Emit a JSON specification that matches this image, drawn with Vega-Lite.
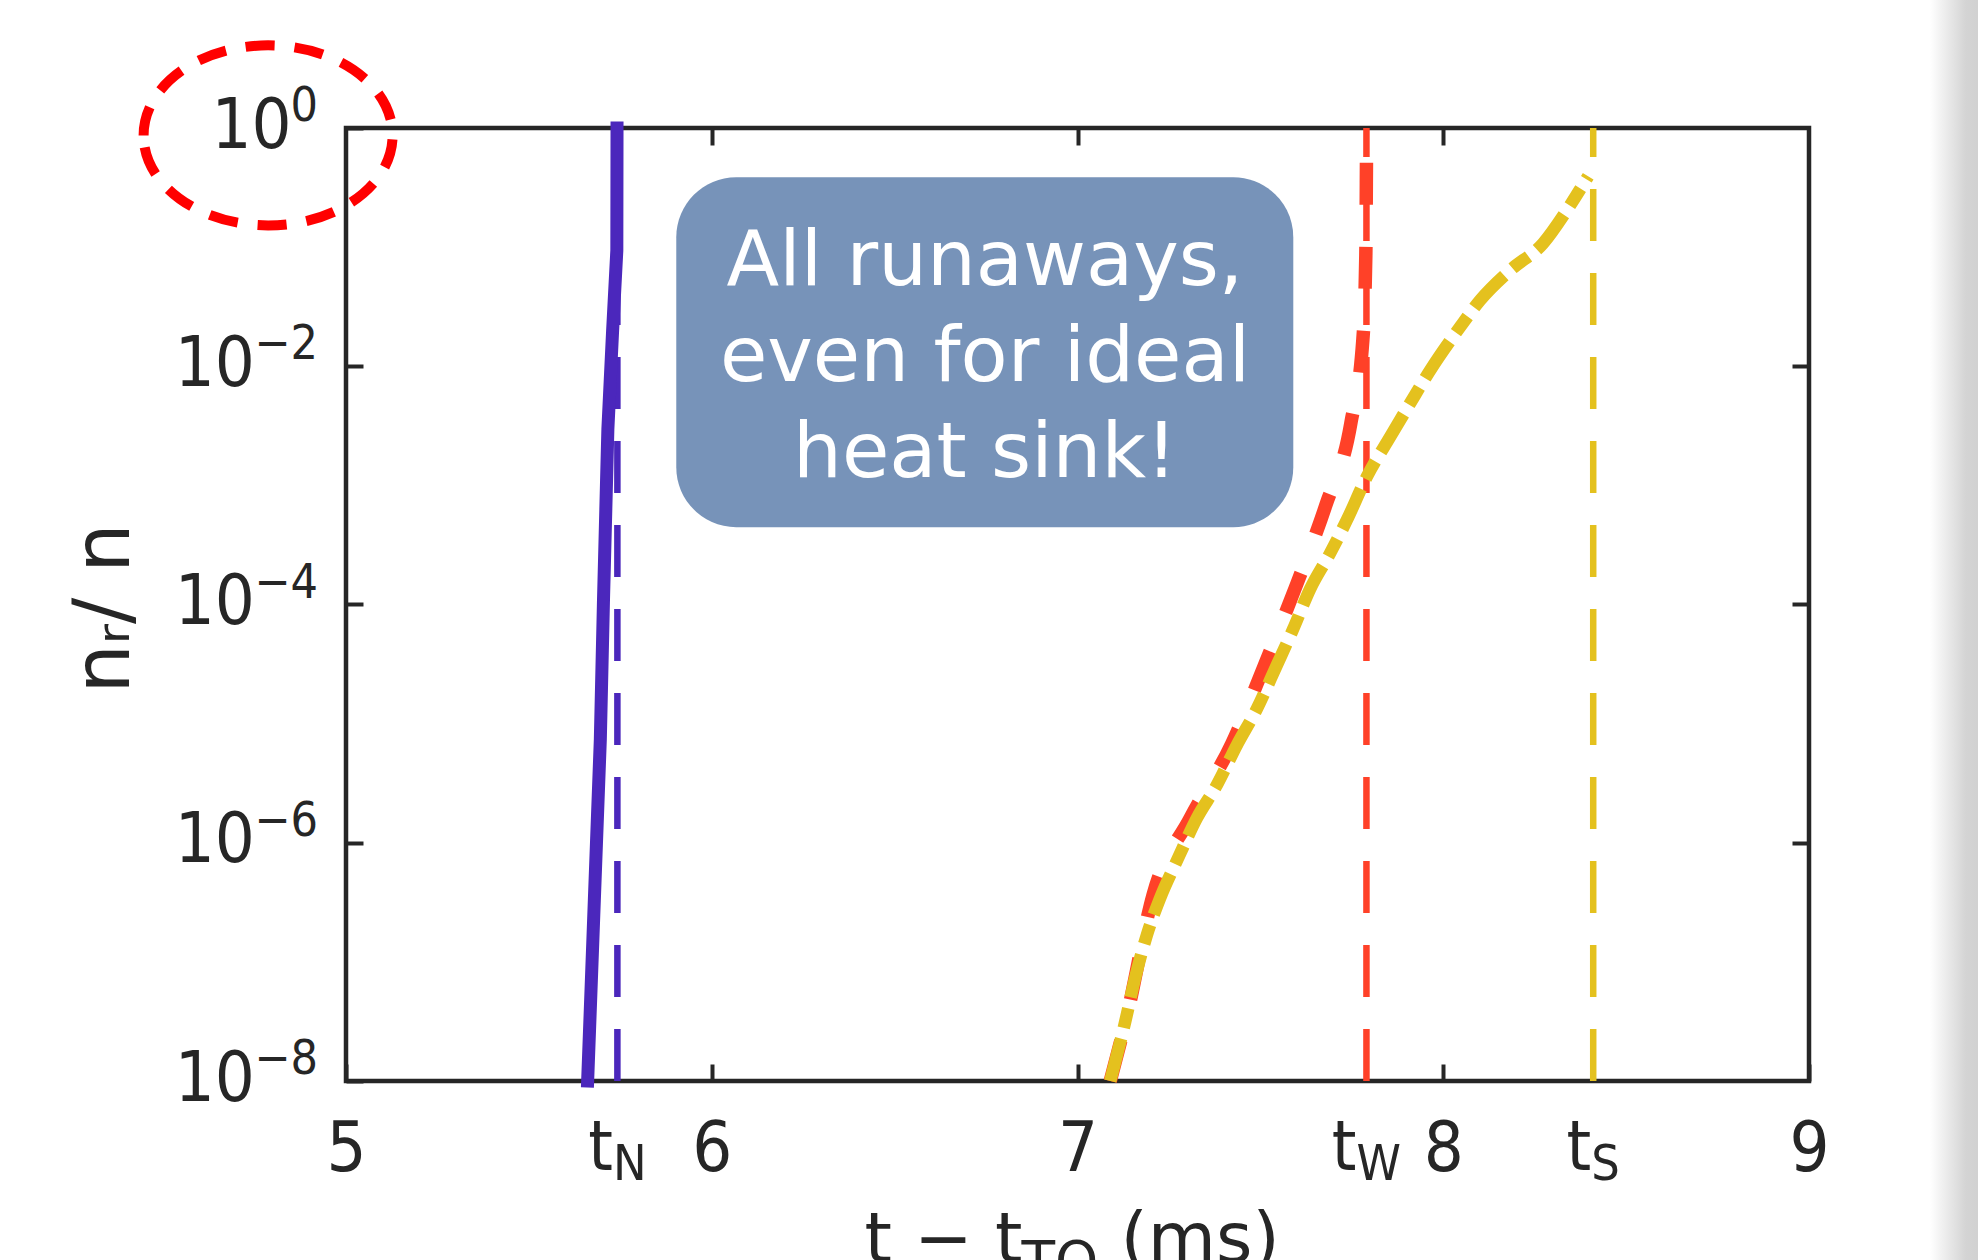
{
  "$schema": "https://vega.github.io/schema/vega-lite/v6.json",
  "width": 1463,
  "height": 953,
  "autosize": {"type": "none"},
  "padding": {"left": 346, "top": 128, "right": 169, "bottom": 179},
  "background": "white",
  "config": {
    "view": {"stroke": "#262626", "strokeWidth": 4.5},
    "font": "DejaVu Sans"
  },
  "datasets": {
    "purple": [
      {"o": 1, "t": 5.6607, "r": 1e-8},
      {"o": 2, "t": 5.6790, "r": 3.31e-7},
      {"o": 3, "t": 5.6954, "r": 7.43e-6},
      {"o": 4, "t": 5.7040, "r": 1.089e-4},
      {"o": 5, "t": 5.7160, "r": 0.002961},
      {"o": 6, "t": 5.7290, "r": 0.02004},
      {"o": 7, "t": 5.7405, "r": 0.094},
      {"o": 8, "t": 5.7410, "r": 1}
    ],
    "red": [
      {"o": 1, "t": 7.0896, "r": 1e-8},
      {"o": 2, "t": 7.1351, "r": 3.52e-8},
      {"o": 3, "t": 7.2069, "r": 3.68e-7},
      {"o": 4, "t": 7.3081, "r": 1.61e-6},
      {"o": 5, "t": 7.4220, "r": 6.79e-6},
      {"o": 6, "t": 7.5131, "r": 3.19e-5},
      {"o": 7, "t": 7.5997, "r": 1.49e-4},
      {"o": 8, "t": 7.6790, "r": 6.82e-4},
      {"o": 9, "t": 7.7473, "r": 3.32e-3},
      {"o": 10, "t": 7.7801, "r": 0.01652},
      {"o": 11, "t": 7.7883, "r": 0.0853},
      {"o": 12, "t": 7.7899, "r": 0.4406},
      {"o": 13, "t": 7.7905, "r": 1}
    ],
    "yellow": [
      {"o": 1, "t": 7.0896, "r": 1e-8},
      {"o": 2, "t": 7.1304, "r": 3.14e-8},
      {"o": 3, "t": 7.1577, "r": 7.35e-8},
      {"o": 4, "t": 7.1897, "r": 1.68e-7},
      {"o": 5, "t": 7.2260, "r": 3.44e-7},
      {"o": 6, "t": 7.2752, "r": 7.45e-7},
      {"o": 7, "t": 7.3263, "r": 1.61e-6},
      {"o": 8, "t": 7.3810, "r": 3.05e-6},
      {"o": 9, "t": 7.4357, "r": 6.61e-6},
      {"o": 10, "t": 7.4903, "r": 1.33e-5},
      {"o": 11, "t": 7.5450, "r": 3.10e-5},
      {"o": 12, "t": 7.5896, "r": 6.22e-5},
      {"o": 13, "t": 7.6360, "r": 1.35e-4},
      {"o": 14, "t": 7.6907, "r": 2.70e-4},
      {"o": 15, "t": 7.7364, "r": 5.11e-4},
      {"o": 16, "t": 7.7910, "r": 1.18e-3},
      {"o": 17, "t": 7.8547, "r": 2.55e-3},
      {"o": 18, "t": 7.9094, "r": 4.89e-3},
      {"o": 19, "t": 7.9641, "r": 9.25e-3},
      {"o": 20, "t": 8.0461, "r": 0.02138},
      {"o": 21, "t": 8.1008, "r": 0.0358},
      {"o": 22, "t": 8.1828, "r": 0.06387},
      {"o": 23, "t": 8.2730, "r": 0.1076},
      {"o": 24, "t": 8.3378, "r": 0.2037},
      {"o": 25, "t": 8.3960, "r": 0.3926}
    ],
    "vlines": [
      {"name": "N", "t": 5.742},
      {"name": "W", "t": 7.79},
      {"name": "S", "t": 8.41}
    ],
    "yticks": [
      {"v": 1, "e": "0"},
      {"v": 0.01, "e": "−2"},
      {"v": 0.0001, "e": "−4"},
      {"v": 0.000001, "e": "−6"},
      {"v": 1e-8, "e": "−8"}
    ],
    "box": [{"x1": 5.903, "x2": 7.59, "y1": 0.386, "y2": 0.000446}],
    "boxtext": [
      {"line": "All runaways,", "y": 0.04769},
      {"line": "even for ideal", "y": 0.007469},
      {"line": "heat sink!", "y": 0.001171}
    ]
  },
  "resolve": {"axis": {"x": "independent", "y": "independent"}},
  "layer": [
    {
      "data": {"values": [{"a": 1}]},
      "mark": {"type": "rect", "fill": {"gradient": "linear", "x1": 0, "x2": 1, "y1": 0, "y2": 0, "stops": [{"offset": 0, "color": "#ffffff"}, {"offset": 0.7, "color": "#d4d4d4"}, {"offset": 1, "color": "#d0d0d0"}]}},
      "encoding": {
        "x": {"datum": 9.3308, "type": "quantitative", "scale": {"domain": [5, 9], "nice": false, "zero": false}, "axis": null},
        "x2": {"datum": 9.47},
        "y": {"datum": 20, "type": "quantitative", "scale": {"type": "log", "domain": [1e-8, 1], "nice": false}, "axis": null},
        "y2": {"datum": 1e-10}
      }
    },
    {
      "data": {"name": "vlines"},
      "mark": {"type": "rule", "strokeWidth": 6.5, "strokeDash": [52, 32]},
      "encoding": {
        "x": {"field": "t", "type": "quantitative", "scale": {"domain": [5, 9], "nice": false, "zero": false}, "axis": null},
        "y": {"datum": 1e-8, "type": "quantitative", "scale": {"type": "log", "domain": [1e-8, 1], "nice": false}, "axis": null},
        "y2": {"datum": 1},
        "color": {"field": "name", "type": "nominal", "scale": {"domain": ["N", "W", "S"], "range": ["#4b27bc", "#ff4128", "#e4c11e"]}, "legend": null}
      }
    },
    {
      "data": {"name": "purple"},
      "mark": {"type": "line", "color": "#4b27bc", "strokeWidth": 13, "strokeCap": "square"},
      "encoding": {
        "x": {"field": "t", "type": "quantitative", "scale": {"domain": [5, 9], "nice": false, "zero": false},
          "axis": {"orient": "bottom", "values": [5, 6, 7, 8, 9], "format": "d", "domain": false, "grid": false, "ticks": true, "tickSize": -17, "tickWidth": 4, "tickColor": "#262626", "labelFont": "DejaVu Sans Condensed, DejaVu Sans", "labelFontSize": 70, "labelColor": "#262626", "labelPadding": 106, "labelBaseline": "alphabetic", "labelAlign": "center", "labelFlush": false, "labelOverlap": false, "labelBound": false, "title": null}},
        "y": {"field": "r", "type": "quantitative", "scale": {"type": "log", "domain": [1e-8, 1], "nice": false},
          "axis": {"orient": "left", "values": [1, 0.01, 0.0001, 0.000001, 1e-8], "labelExpr": "'10'", "domain": false, "grid": false, "ticks": true, "tickSize": -17, "tickWidth": 4, "tickColor": "#262626", "labelFont": "DejaVu Sans Condensed, DejaVu Sans", "labelFontSize": 70, "labelColor": "#262626", "labelAlign": "right", "labelBaseline": "alphabetic", "labelOffset": 19, "labelPadding": {"condition": {"test": "datum.value >= 0.5", "value": 72}, "value": 108.6}, "labelFlush": false, "labelOverlap": false, "labelBound": false,
            "title": "nᵣ/ n", "titleFont": "DejaVu Sans", "titleFontSize": 78, "titleFontWeight": "normal", "titleColor": "#262626", "titleX": -217.6, "titleY": 480, "titleAlign": "center", "titleBaseline": "alphabetic", "titleAngle": 270}},
        "order": {"field": "o", "type": "quantitative"}
      }
    },
    {
      "data": {"name": "red"},
      "mark": {"type": "line", "color": "#ff4128", "strokeWidth": 13.5, "strokeDash": [42, 42], "interpolate": "monotone"},
      "encoding": {
        "x": {"field": "t", "type": "quantitative", "scale": {"domain": [5, 9], "nice": false, "zero": false},
          "axis": {"orient": "top", "values": [6, 7, 8], "labels": false, "domain": false, "grid": false, "ticks": true, "tickSize": -17, "tickWidth": 4, "tickColor": "#262626", "title": null}},
        "y": {"field": "r", "type": "quantitative", "scale": {"type": "log", "domain": [1e-8, 1], "nice": false},
          "axis": {"orient": "right", "values": [0.01, 0.0001, 0.000001], "labels": false, "domain": false, "grid": false, "ticks": true, "tickSize": -17, "tickWidth": 4, "tickColor": "#262626", "title": null}},
        "order": {"field": "o", "type": "quantitative"}
      }
    },
    {
      "data": {"name": "yellow"},
      "mark": {"type": "line", "color": "#e4c11e", "strokeWidth": 12.5, "strokeDash": [44, 11, 20, 11], "interpolate": "monotone"},
      "encoding": {
        "x": {"field": "t", "type": "quantitative", "scale": {"domain": [5, 9], "nice": false, "zero": false}, "axis": null},
        "y": {"field": "r", "type": "quantitative", "scale": {"type": "log", "domain": [1e-8, 1], "nice": false}, "axis": null},
        "order": {"field": "o", "type": "quantitative"}
      }
    },
    {
      "data": {"name": "box"},
      "mark": {"type": "rect", "fill": "#7793b9", "cornerRadius": 60},
      "encoding": {
        "x": {"field": "x1", "type": "quantitative", "scale": {"domain": [5, 9], "nice": false, "zero": false}, "axis": null},
        "x2": {"field": "x2"},
        "y": {"field": "y1", "type": "quantitative", "scale": {"type": "log", "domain": [1e-8, 1], "nice": false}, "axis": null},
        "y2": {"field": "y2"}
      }
    },
    {
      "data": {"name": "boxtext"},
      "mark": {"type": "text", "align": "center", "baseline": "alphabetic", "fontSize": 77, "font": "DejaVu Sans", "color": "#ffffff"},
      "encoding": {
        "x": {"datum": 6.747, "type": "quantitative", "scale": {"domain": [5, 9], "nice": false, "zero": false}, "axis": null},
        "y": {"field": "y", "type": "quantitative", "scale": {"type": "log", "domain": [1e-8, 1], "nice": false}, "axis": null},
        "text": {"field": "line"}
      }
    },
    {
      "data": {"name": "yticks"},
      "mark": {"type": "text", "align": "right", "baseline": "alphabetic", "dx": -28, "dy": -7, "fontSize": 48, "font": "DejaVu Sans Condensed, DejaVu Sans", "color": "#262626"},
      "encoding": {
        "x": {"datum": 5, "type": "quantitative", "scale": {"domain": [5, 9], "nice": false, "zero": false}, "axis": null},
        "y": {"field": "v", "type": "quantitative", "scale": {"type": "log", "domain": [1e-8, 1], "nice": false}, "axis": null},
        "text": {"field": "e"}
      }
    },
    {
      "data": {"name": "vlines"},
      "mark": {"type": "text", "text": "t", "align": "right", "baseline": "alphabetic", "dy": 89, "dx": {"expr": "datum.name === 'W' ? -10 : datum.name === 'N' ? -4.5 : -2"}, "fontSize": 70, "font": "DejaVu Sans Condensed, DejaVu Sans", "color": "#262626"},
      "encoding": {
        "x": {"field": "t", "type": "quantitative", "scale": {"domain": [5, 9], "nice": false, "zero": false}, "axis": null},
        "y": {"datum": 1e-8, "type": "quantitative", "scale": {"type": "log", "domain": [1e-8, 1], "nice": false}, "axis": null}
      }
    },
    {
      "data": {"name": "vlines"},
      "mark": {"type": "text", "align": "left", "baseline": "alphabetic", "dy": 99, "dx": {"expr": "datum.name === 'W' ? -10 : datum.name === 'N' ? -4.5 : -2"}, "fontSize": 50, "font": "DejaVu Sans Condensed, DejaVu Sans", "color": "#262626"},
      "encoding": {
        "x": {"field": "t", "type": "quantitative", "scale": {"domain": [5, 9], "nice": false, "zero": false}, "axis": null},
        "y": {"datum": 1e-8, "type": "quantitative", "scale": {"type": "log", "domain": [1e-8, 1], "nice": false}, "axis": null},
        "text": {"field": "name"}
      }
    },
    {
      "data": {"values": [{"a": "t − t", "b": "TQ", "c": "(ms)"}]},
      "mark": {"type": "text", "align": "right", "baseline": "alphabetic", "dx": -55, "dy": 181, "fontSize": 70, "font": "DejaVu Sans", "color": "#262626"},
      "encoding": {
        "x": {"datum": 7, "type": "quantitative", "scale": {"domain": [5, 9], "nice": false, "zero": false}, "axis": null},
        "y": {"datum": 1e-8, "type": "quantitative", "scale": {"type": "log", "domain": [1e-8, 1], "nice": false}, "axis": null},
        "text": {"field": "a"}
      }
    },
    {
      "data": {"values": [{"a": "t − t", "b": "TQ", "c": "(ms)"}]},
      "mark": {"type": "text", "align": "left", "baseline": "alphabetic", "dx": -56, "dy": 199, "fontSize": 55, "font": "DejaVu Sans", "color": "#262626"},
      "encoding": {
        "x": {"datum": 7, "type": "quantitative", "scale": {"domain": [5, 9], "nice": false, "zero": false}, "axis": null},
        "y": {"datum": 1e-8, "type": "quantitative", "scale": {"type": "log", "domain": [1e-8, 1], "nice": false}, "axis": null},
        "text": {"field": "b"}
      }
    },
    {
      "data": {"values": [{"a": "t − t", "b": "TQ", "c": "(ms)"}]},
      "mark": {"type": "text", "align": "left", "baseline": "alphabetic", "dx": 43, "dy": 181, "fontSize": 70, "font": "DejaVu Sans", "color": "#262626"},
      "encoding": {
        "x": {"datum": 7, "type": "quantitative", "scale": {"domain": [5, 9], "nice": false, "zero": false}, "axis": null},
        "y": {"datum": 1e-8, "type": "quantitative", "scale": {"type": "log", "domain": [1e-8, 1], "nice": false}, "axis": null},
        "text": {"field": "c"}
      }
    },
    {
      "data": {"values": [{"a": 1}]},
      "mark": {"type": "point", "shape": "M -1 0 A 1 0.723 0 1 1 1 0 A 1 0.723 0 1 1 -1 0 Z", "size": 62001, "filled": false, "stroke": "#ff0000", "strokeWidth": 10, "strokeDash": [29, 20], "opacity": 1, "strokeOpacity": 1},
      "encoding": {
        "x": {"datum": 4.787, "type": "quantitative", "scale": {"domain": [5, 9], "nice": false, "zero": false}, "axis": null},
        "y": {"datum": 0.867, "type": "quantitative", "scale": {"type": "log", "domain": [1e-8, 1], "nice": false}, "axis": null}
      }
    }
  ]
}
